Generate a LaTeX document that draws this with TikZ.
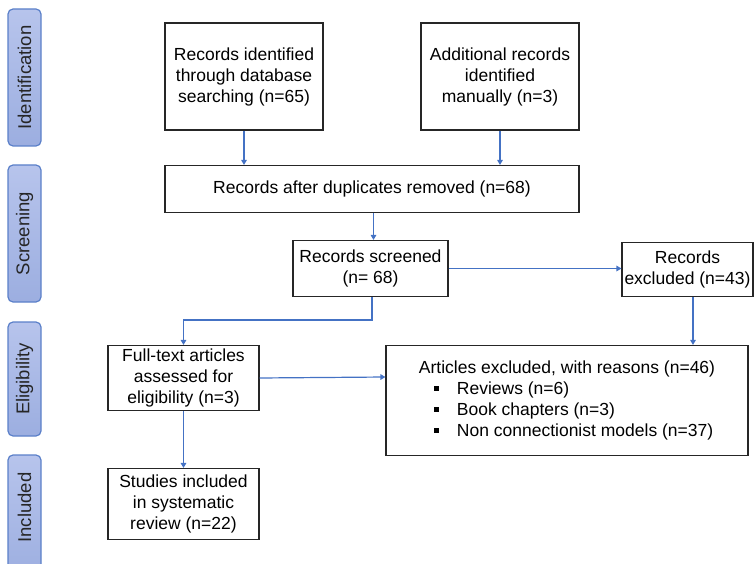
\documentclass[tikz,border=0pt]{standalone}
\usepackage{fontspec}
\setmainfont{Liberation Sans}
\usetikzlibrary{arrows.meta}
\definecolor{flowblue}{HTML}{4472C4}
\definecolor{tabedge}{HTML}{5B80C9}
\definecolor{tablight}{HTML}{B7C4EC}
\definecolor{tabdark}{HTML}{9CAEE0}
\newcommand{\sqbullet}{\raisebox{3.5pt}{\rule{5.5pt}{5.5pt}}}
\begin{document}
\begin{tikzpicture}[x=1pt,y=-1pt,
  box/.style={draw=black!85, line width=1.1pt, fill=white, align=center,
    inner sep=2pt, font=\fontsize{17.5}{21}\selectfont},
  tab/.style={draw=tabedge, line width=1.2pt, rounded corners=5pt,
    top color=tablight, bottom color=tabdark, rotate=90,
    minimum height=33pt, inner sep=0pt, text=black!85,
    font=\fontsize{18.5}{22}\selectfont},
  tablabel/.style={rotate=90, inner sep=0pt, text=black!85,
    font=\fontsize{18.5}{22}\selectfont},
  arr/.style={draw=flowblue, line width=1.2pt,
    -{Triangle[length=5pt,width=5.5pt]}}]
\useasboundingbox (0,0) rectangle (755,564);

% phase tabs down the left side
\node[tab, minimum width=137pt] (tid) at (24.5,77.5) {Identification};
\node[tab, minimum width=137pt] (tsc) at (24.5,233.5) {Screening};
\node[tab, minimum width=114pt] (tel) at (24.5,379) {Eligibility};
% the last tab runs past the lower edge of the page
\node[tab, minimum width=126pt] (tin) at (24.5,518) {};
\node[tablabel] (tinl) at (24.5,507.5) {Included};

% flow boxes
\node[box, minimum width=158pt, minimum height=107pt] (dbs) at (244,76.5)
  {Records identified\\through database\\searching (n=65)};
\node[box, minimum width=158pt, minimum height=107pt] (man) at (500,76.5)
  {Additional records\\identified\\manually (n=3)};
\node[box, minimum width=414pt, minimum height=47pt] (dup) at (372,189)
  {Records after duplicates removed (n=68)};
\node[box, minimum width=155pt, minimum height=56pt] (scr) at (370.5,268.5)
  {Records screened\\(n= 68)};
\node[box, minimum width=131pt, minimum height=54pt, inner sep=0pt] (exc) at (687.5,269.5)
  {Records\\excluded (n=43)};
\node[box, minimum width=151pt, minimum height=65pt] (ful) at (183.5,378)
  {Full-text articles\\assessed for\\eligibility (n=3)};
\node[box, minimum width=362pt, minimum height=110pt, align=left] (rsn) at (567,400.5)
  {Articles excluded, with reasons (n=46)\\
   \hspace*{15pt}\sqbullet\hspace*{17.5pt}Reviews (n=6)\\
   \hspace*{15pt}\sqbullet\hspace*{17.5pt}Book chapters (n=3)\\
   \hspace*{15pt}\sqbullet\hspace*{17.5pt}Non connectionist models (n=37)};
\node[box, minimum width=151pt, minimum height=71pt] (inc) at (183.5,504)
  {Studies included\\in systematic\\review (n=22)};

% connectors
\coordinate (bend) at (183.5,320);
\draw[arr] (dbs.south) -- (dbs.south |- dup.north);
\draw[arr] (man.south) -- (man.south |- dup.north);
\draw[arr] ([xshift=1.5pt]dup.south) -- ([xshift=1.5pt]dup.south |- scr.north);
\draw[arr] (scr.east) -- (scr.east -| exc.west);
\draw[arr] ([xshift=5.5pt]exc.south) -- ([xshift=5.5pt]exc.south |- rsn.north);
\draw[arr] ([xshift=1.5pt]scr.south) |- (bend) -- (ful.north);
\draw[arr] (ful.east) -- ([yshift=1pt]ful.east -| rsn.west);
\draw[arr] (ful.south) -- (inc.north);
\end{tikzpicture}
\end{document}
